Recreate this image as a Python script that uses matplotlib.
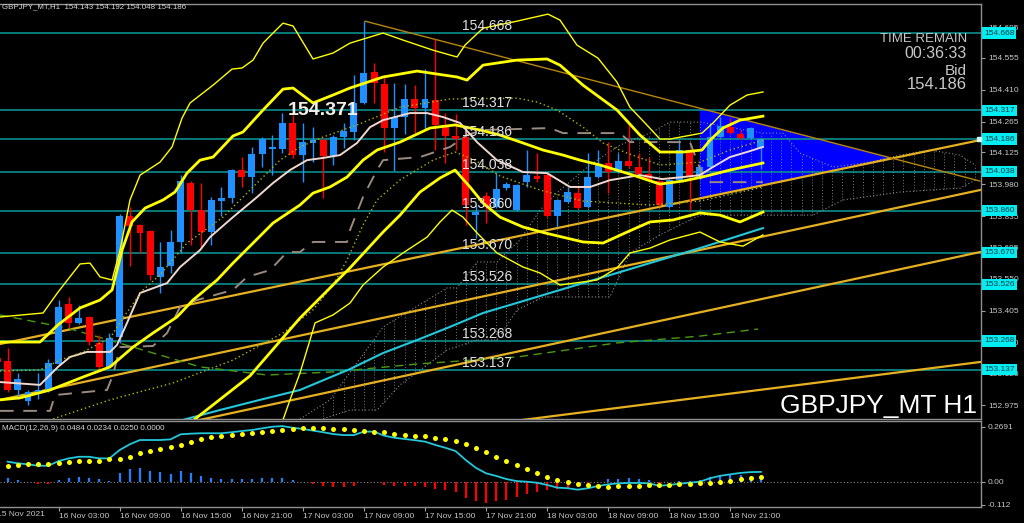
import numpy as np
import matplotlib
matplotlib.use("Agg")
import matplotlib.pyplot as plt
import matplotlib.transforms as mtrans
from matplotlib.patches import Polygon

plt.rcParams['font.family'] = ['Liberation Sans', 'DejaVu Sans']

# GBPJPY H1 candles, bar 0 = 16 Nov 03:00
bars = np.arange(-6, 70)
opens = [153.190, 153.177, 153.045, 152.995, 153.036, 153.041, 153.163, 153.436, 153.350, 153.377,
         153.259, 153.150, 153.286, 153.836, 153.795, 153.768, 153.559, 153.609, 153.718, 153.986,
         153.863, 153.763, 153.904, 153.918, 154.045, 154.013, 154.118, 154.140, 154.140, 154.259,
         154.113, 154.168, 154.181, 154.109, 154.195, 154.218, 154.350, 154.490, 154.436, 154.236,
         154.286, 154.368, 154.327, 154.363, 154.250, 154.200, 154.195, 153.840, 153.927, 153.877,
         153.963, 153.863, 153.990, 154.018, 154.022, 153.836, 153.900, 153.940, 153.877, 154.013,
         154.077, 154.036, 154.086, 154.059, 154.027, 153.995, 153.877, 153.999, 154.136, 154.009,
         154.059, 154.195, 154.240, 154.209, 154.190, 154.143]
highs = [153.204, 153.236, 153.122, 153.045, 153.122, 153.186, 153.454, 153.468, 153.431, 153.380,
         153.295, 153.304, 153.845, 153.877, 153.800, 153.772, 153.718, 153.772, 154.022, 153.995,
         153.986, 153.922, 153.968, 154.050, 154.104, 154.150, 154.195, 154.204, 154.304, 154.295,
         154.259, 154.240, 154.190, 154.204, 154.259, 154.477, 154.722, 154.531, 154.477, 154.440,
         154.436, 154.431, 154.504, 154.640, 154.304, 154.300, 154.240, 153.886, 153.945, 154.031,
         153.990, 153.981, 154.136, 154.122, 154.030, 153.913, 153.968, 153.968, 154.122, 154.136,
         154.172, 154.122, 154.263, 154.122, 154.104, 153.999, 154.004, 154.181, 154.140, 154.063,
         154.259, 154.286, 154.281, 154.227, 154.240, 154.192]
lows = [153.159, 153.036, 153.004, 152.977, 153.004, 153.036, 153.158, 153.327, 153.345, 153.250,
        153.141, 153.145, 153.259, 153.609, 153.668, 153.545, 153.486, 153.577, 153.668, 153.704,
        153.695, 153.704, 153.836, 153.895, 153.968, 153.940, 154.059, 154.022, 154.122, 154.100,
        153.990, 154.081, 153.918, 154.068, 154.145, 154.181, 154.345, 154.350, 154.127, 154.040,
        154.209, 154.213, 154.227, 154.136, 154.077, 154.136, 153.795, 153.736, 153.804, 153.872,
        153.954, 153.858, 153.968, 153.990, 153.830, 153.786, 153.895, 153.868, 153.872, 154.008,
        153.940, 154.031, 154.054, 154.013, 153.995, 153.881, 153.872, 153.995, 153.863, 154.004,
        154.054, 154.190, 154.209, 154.186, 154.186, 154.048]
closes = [153.172, 153.045, 153.095, 153.036, 153.045, 153.168, 153.422, 153.350, 153.372, 153.263,
          153.150, 153.281, 153.836, 153.790, 153.759, 153.568, 153.604, 153.718, 153.995, 153.863,
          153.763, 153.909, 153.918, 154.045, 154.013, 154.118, 154.186, 154.150, 154.259, 154.113,
          154.172, 154.181, 154.109, 154.195, 154.222, 154.350, 154.486, 154.440, 154.236, 154.286,
          154.368, 154.327, 154.368, 154.250, 154.200, 154.186, 153.886, 153.854, 153.877, 153.959,
          153.981, 153.977, 154.022, 154.004, 153.836, 153.909, 153.945, 153.872, 154.013, 154.072,
          154.036, 154.086, 154.063, 154.027, 153.999, 153.886, 153.999, 154.136, 154.013, 154.059,
          154.195, 154.245, 154.213, 154.190, 154.236, 154.186]

levels = [154.668, 154.317, 154.186, 154.038, 153.860, 153.670, 153.526, 153.268, 153.137, 152.904]
price_ticks = [154.695, 154.555, 154.410, 154.265, 154.125, 153.980, 153.835, 153.695,
               153.550, 153.405, 153.260, 153.120, 152.975]

# Bollinger bands (bar, price)
bb_up3 = [(-5.75, 153.377), (-1.52, 153.395), (-0.05, 153.490), (2.11, 153.618), (3.09, 153.622),
          (4.08, 153.559), (5.26, 153.545), (6.04, 153.681), (7.02, 153.909), (8.01, 154.022),
          (9.97, 154.081), (11.15, 154.150), (12.13, 154.281), (12.92, 154.350), (15.18, 154.431),
          (17.04, 154.504), (18.03, 154.509), (19.11, 154.545), (20.09, 154.622), (21.07, 154.668),
          (22.05, 154.713), (23.04, 154.700), (25.00, 154.550), (26.96, 154.577), (28.63, 154.622),
          (31.88, 154.668), (33.84, 154.636), (36.79, 154.590), (39.15, 154.559), (39.93, 154.613),
          (41.70, 154.690), (45.04, 154.722), (48.08, 154.754), (49.26, 154.727), (50.93, 154.613),
          (52.99, 154.554), (54.86, 154.445), (56.13, 154.331), (57.61, 154.259), (59.08, 154.186),
          (60.07, 154.186), (63.21, 154.213), (64.29, 154.259), (65.96, 154.340), (67.63, 154.386),
          (69.20, 154.400)]
bb_up2 = [(-5.75, 153.263), (-1.82, 153.263), (-0.05, 153.341), (2.11, 153.418), (4.08, 153.454),
          (5.26, 153.500), (6.24, 153.681), (7.22, 153.809), (8.50, 153.872), (10.27, 153.909),
          (11.44, 153.945), (12.62, 154.031), (13.90, 154.090), (15.18, 154.104), (17.14, 154.200),
          (18.12, 154.218), (20.09, 154.318), (22.05, 154.413), (23.04, 154.418), (25.00, 154.350),
          (26.96, 154.386), (28.63, 154.418), (31.88, 154.468), (35.22, 154.495), (39.15, 154.468),
          (40.13, 154.454), (41.70, 154.522), (45.04, 154.545), (47.99, 154.550), (49.26, 154.522),
          (51.52, 154.431), (54.86, 154.318), (57.12, 154.204), (59.08, 154.127), (61.41, 154.127),
          (63.21, 154.136), (64.00, 154.181), (65.27, 154.236), (66.94, 154.272), (69.20, 154.290)]
bb_up1 = [(-5.75, 153.131), (-1.82, 153.136), (0.15, 153.181), (2.41, 153.218), (5.06, 153.281),
          (6.53, 153.386), (8.30, 153.500), (9.97, 153.568), (12.62, 153.713), (16.16, 153.831),
          (19.50, 153.986), (21.76, 154.090), (23.72, 154.150), (25.98, 154.195), (29.32, 154.250),
          (33.55, 154.331), (38.46, 154.368), (45.04, 154.372), (47.00, 154.354), (48.97, 154.318),
          (51.52, 154.240), (53.49, 154.168), (55.85, 154.122), (59.08, 154.068), (63.01, 154.081),
          (65.96, 154.136), (69.20, 154.181)]
bb_mid = [(-5.75, 153.000), (-3.78, 153.009), (-0.83, 153.045), (2.41, 153.104), (5.06, 153.150),
          (7.32, 153.240), (9.28, 153.304), (11.64, 153.377), (13.21, 153.454), (15.57, 153.545),
          (17.14, 153.622), (19.11, 153.713), (21.07, 153.804), (23.72, 153.886), (25.00, 153.940),
          (26.67, 153.968), (28.34, 154.013), (29.91, 154.090), (31.29, 154.136), (33.55, 154.172),
          (36.49, 154.236), (38.95, 154.250), (41.41, 154.227), (43.37, 154.204), (45.63, 154.168),
          (47.59, 154.136), (49.56, 154.113), (51.23, 154.090), (53.19, 154.068), (56.43, 154.022),
          (59.08, 153.981), (61.34, 153.995), (63.21, 154.013), (65.96, 154.045), (69.20, 154.077)]
bb_dn1 = [(-5.75, 152.868), (-0.83, 152.909), (5.06, 153.000), (11.25, 153.077), (17.14, 153.181),
          (22.05, 153.304), (25.00, 153.409), (26.96, 153.522), (28.34, 153.636), (29.91, 153.795),
          (31.29, 153.909), (33.55, 154.000), (36.79, 154.090), (38.95, 154.127), (40.91, 154.090),
          (43.37, 154.018), (47.30, 153.954), (51.52, 153.904), (58.10, 153.886), (63.01, 153.904),
          (69.20, 153.968)]
bb_dn2 = [(13.41, 152.913), (18.81, 153.109), (23.72, 153.372), (28.63, 153.600), (31.88, 153.763),
          (33.55, 153.840), (35.51, 153.945), (37.48, 154.009), (38.95, 154.045), (40.42, 153.968),
          (41.70, 153.895), (43.37, 153.831), (45.63, 153.786), (47.79, 153.759), (51.52, 153.718),
          (53.49, 153.713), (55.85, 153.763), (58.10, 153.809), (60.36, 153.818), (63.01, 153.850),
          (64.98, 153.840), (66.94, 153.809), (69.20, 153.854)]
bb_dn3 = [(22.05, 152.909), (22.74, 153.000), (23.72, 153.122), (24.70, 153.272), (25.20, 153.350),
          (26.96, 153.386), (28.63, 153.440), (29.91, 153.522), (31.88, 153.604), (33.84, 153.668),
          (36.20, 153.740), (37.48, 153.809), (38.65, 153.863), (39.73, 153.831), (41.11, 153.759),
          (43.07, 153.668), (45.63, 153.604), (47.30, 153.577), (49.26, 153.522), (52.90, 153.545),
          (54.86, 153.600), (56.13, 153.668), (58.10, 153.690), (60.07, 153.727), (63.01, 153.763),
          (64.98, 153.718), (67.24, 153.699), (69.20, 153.750)]

tenkan = [(-5.75, 153.081), (-1.82, 153.068), (-0.05, 153.150), (1.13, 153.195), (2.80, 153.218),
          (5.06, 153.218), (5.75, 153.250), (6.73, 153.350), (8.01, 153.486), (10.66, 153.531),
          (11.94, 153.604), (13.90, 153.681), (14.88, 153.740), (17.14, 153.831), (19.50, 153.922),
          (21.07, 153.986), (22.74, 154.045), (24.41, 154.090), (25.98, 154.100), (27.65, 154.113),
          (29.32, 154.168), (30.60, 154.240), (31.88, 154.272), (34.53, 154.304), (36.20, 154.304),
          (37.77, 154.286), (39.44, 154.259), (41.11, 154.172), (43.07, 154.090), (45.63, 154.036),
          (47.99, 154.031), (50.25, 153.968), (52.21, 153.968), (54.17, 153.999), (57.12, 154.022),
          (59.29, 154.004), (61.34, 154.013), (63.01, 154.022), (64.29, 154.059), (65.96, 154.104),
          (67.63, 154.127), (69.20, 154.150)]
kijun = [(-5.75, 152.950), (-0.83, 152.950), (-0.34, 153.022), (4.76, 153.045), (5.35, 153.113),
         (6.04, 153.240), (9.28, 153.245), (10.66, 153.304), (11.94, 153.422), (13.61, 153.454),
         (17.14, 153.500), (18.52, 153.559), (20.78, 153.590), (22.45, 153.672), (23.72, 153.672),
         (25.00, 153.718), (28.34, 153.718), (28.63, 153.772), (29.91, 153.922), (31.29, 154.045),
         (31.88, 154.090), (35.51, 154.104), (38.46, 154.150), (40.13, 154.204), (41.70, 154.227),
         (48.28, 154.236), (49.56, 154.213), (55.16, 154.213), (56.13, 154.172), (62.03, 154.172),
         (63.51, 153.990), (69.20, 153.990)]
ma_cyan = [(12.23, 152.909), (15.87, 152.954), (19.79, 153.000), (23.72, 153.045), (28.63, 153.140),
           (31.88, 153.213), (35.22, 153.272), (38.46, 153.332), (41.70, 153.395), (45.04, 153.441),
           (48.28, 153.486), (51.52, 153.531), (54.86, 153.577), (58.10, 153.622), (63.01, 153.690),
           (69.20, 153.781)]
ma_green = [(-5.75, 153.386), (0.83, 153.327), (7.32, 153.240), (13.90, 153.150), (20.48, 153.113),
            (26.96, 153.127), (35.22, 153.163), (45.04, 153.195), (54.86, 153.259), (63.01, 153.290),
            (68.71, 153.322)]

cloud_top = [(23.72, 152.913), (26.67, 153.000), (31.88, 153.331), (38.17, 153.509), (39.15, 153.509),
             (41.11, 153.627), (43.07, 153.627), (45.33, 153.727), (47.30, 153.863), (49.26, 153.954),
             (52.21, 154.068), (55.16, 154.159), (58.10, 154.213), (60.07, 154.263), (63.01, 154.263),
             (69.20, 154.213), (71.17, 154.213), (72.84, 154.122), (76.08, 154.059), (79.72, 154.081),
             (82.66, 154.113), (85.61, 154.136), (88.56, 154.113), (90.03, 154.068)]
cloud_bot = [(25.69, 152.909), (28.63, 152.954), (31.29, 152.954), (33.55, 153.068), (38.17, 153.227),
             (41.11, 153.272), (43.07, 153.272), (45.04, 153.409), (47.59, 153.468), (54.17, 153.468),
             (56.13, 153.668), (59.08, 153.750), (63.01, 153.840), (74.11, 153.840), (77.06, 153.909),
             (82.66, 153.945), (88.56, 153.963), (90.03, 153.999)]

# trend lines: (bar0, price0, bar1, price1)
trend_up = [(-5.75, 153.254, 90.51, 154.181),
            (-5.75, 153.000, 90.51, 153.954),
            (13.90, 152.909, 90.51, 153.672),
            (45.63, 152.909, 90.51, 153.172)]
trend_down = (30.11, 154.722, 90.51, 153.995)
triangle = [(63.0, 154.327), (81.9, 154.098), (63.0, 153.917)]

# MACD(12,26,9), bars -5..69
macd_bars = np.arange(-5, 70)
macd_line = [0.098, 0.090, 0.085, 0.078, 0.078, 0.101, 0.114, 0.122, 0.122, 0.114,
             0.114, 0.155, 0.183, 0.204, 0.204, 0.204, 0.207, 0.232, 0.235, 0.237,
             0.237, 0.237, 0.242, 0.248, 0.253, 0.261, 0.269, 0.272, 0.264, 0.258,
             0.250, 0.242, 0.233, 0.228, 0.228, 0.245, 0.245, 0.225, 0.215, 0.209,
             0.203, 0.196, 0.180, 0.166, 0.150, 0.106, 0.068, 0.041, 0.028, 0.013,
             0.003, 0.000, -0.005, -0.016, -0.029, -0.032, -0.039, -0.032, -0.021, -0.013,
             -0.008, -0.006, -0.006, -0.008, -0.020, -0.016, -0.010, -0.005, 0.000, 0.017,
             0.029, 0.036, 0.043, 0.047, 0.048]
macd_signal = [0.078, 0.082, 0.085, 0.087, 0.088, 0.093, 0.096, 0.100, 0.103, 0.103,
               0.110, 0.113, 0.122, 0.139, 0.150, 0.158, 0.168, 0.180, 0.193, 0.207,
               0.217, 0.224, 0.228, 0.233, 0.238, 0.245, 0.250, 0.254, 0.258, 0.261,
               0.263, 0.261, 0.259, 0.256, 0.251, 0.248, 0.245, 0.242, 0.235, 0.228,
               0.225, 0.222, 0.215, 0.209, 0.199, 0.184, 0.163, 0.144, 0.122, 0.101,
               0.080, 0.062, 0.043, 0.023, 0.007, -0.001, -0.011, -0.018, -0.020, -0.024,
               -0.023, -0.023, -0.020, -0.016, -0.016, -0.015, -0.011, -0.010, -0.006, -0.005,
               0.000, 0.005, 0.012, 0.020, 0.024]

time_ticks = [0, 6, 12, 18, 24, 30, 36, 42, 48, 54, 60, 66]
time_labels = ["16 Nov 03:00", "16 Nov 09:00", "16 Nov 15:00", "16 Nov 21:00",
               "17 Nov 03:00", "17 Nov 09:00", "17 Nov 15:00", "17 Nov 21:00",
               "18 Nov 03:00", "18 Nov 09:00", "18 Nov 15:00", "18 Nov 21:00"]

W, H = 1024, 523
fig = plt.figure(figsize=(W / 100, H / 100), dpi=100, facecolor='black')
ax = fig.add_axes([0, 1 - 419 / H, 981 / W, 415 / H], facecolor='black')
ax2 = fig.add_axes([0, 1 - 507 / H, 981 / W, 86 / H], facecolor='black')
XLIM = (-5.75, 90.62)


def xy(pts):
    a = np.array(pts)
    return a[:, 0], a[:, 1]


# background objects
ax.add_patch(Polygon(triangle, closed=True, fc='#0000ff', ec='none', zorder=1))
for lv in levels:
    ax.axhline(lv, color='#0c8e8e', lw=1.2, zorder=2)

# ichimoku cloud: dotted outlines + dotted vertical hatch per bar
tx, ty = xy(cloud_top)
bx, by = xy(cloud_bot)
for b in range(int(np.ceil(max(tx[0], bx[0]))), int(min(tx[-1], bx[-1])) + 1):
    ax.vlines(b, np.interp(b, bx, by), np.interp(b, tx, ty), colors='#7a7a7a',
              lw=0.7, linestyles=(0, (1, 2)), zorder=2)
ax.plot(tx, ty, color='#8a8a8a', lw=0.8, ls=(0, (1, 2)), zorder=2)
ax.plot(bx, by, color='#8a8a8a', lw=0.8, ls=(0, (1, 2)), zorder=2)

# trend lines
for b0, p0, b1, p1 in trend_up:
    ax.plot([b0, b1], [p0, p1], color='#e6b020', lw=1.6, zorder=3)
ax.plot(trend_down[0::2], trend_down[1::2], color='#b8860b', lw=1.0, zorder=3)

# candles
o = np.array(opens); c = np.array(closes)
cols = np.where(c >= o, '#1e90ff', '#ff0000')
ax.vlines(bars, lows, highs, colors=cols, lw=1.0, zorder=5)
ax.bar(bars, np.maximum(np.abs(c - o), 0.004), bottom=np.minimum(o, c), width=0.68,
       color=cols, lw=0, zorder=5)

# indicators
ax.plot(*xy(ma_green), color='#4a9a10', lw=1.0, ls=(0, (6, 4)), zorder=4)
ax.plot(*xy(ma_cyan), color='#22c8dc', lw=1.5, zorder=6)
ax.plot(*xy(kijun), color='#9a8a80', lw=1.4, ls=(0, (7, 5)), zorder=6)
ax.plot(*xy(tenkan), color='#f0d8d0', lw=1.4, zorder=6)
for band in (bb_up1, bb_dn1):
    ax.plot(*xy(band), color='#b4b400', lw=1.0, ls=(0, (1, 2)), zorder=6)
for band in (bb_up2, bb_mid, bb_dn2):
    ax.plot(*xy(band), color='#ffff00', lw=2.0, zorder=6)
for band in (bb_up3, bb_dn3):
    ax.plot(*xy(band), color='#ffff00', lw=1.0, zorder=6)

# level labels
for lv in levels:
    ax.annotate(f"{lv:.3f}", xy=(39.64, lv), xytext=(0, 2.2), textcoords='offset points',
                color='#e0e0e0', fontsize=10, va='baseline', ha='left', zorder=8)
ax.text(22.54, 154.295, "154.371", fontsize=14, fontweight='bold', color='#f4efe6',
        va='baseline', ha='left', zorder=8)

ax.set_xlim(*XLIM)
ax.set_ylim(152.913, 154.800)
ax.set_xticks([])
ax.yaxis.tick_right()
ax.set_yticks(price_ticks)
ax.set_yticklabels([f"{t:.3f}" for t in price_ticks])
ax.tick_params(axis='y', colors='#a0a0a0', labelcolor='#c8c8c8', labelsize=6, length=3, pad=2)

# cyan price boxes on right axis, with bid marker
blend = mtrans.blended_transform_factory(ax.transAxes, ax.transData)
for lv in levels:
    if lv > 152.913:
        ax.text(1.0 + 3 / 981, lv, f"{lv:.3f}", transform=blend, fontsize=6, color='#0a3a48',
                va='center', ha='left', clip_on=False, zorder=20,
                bbox=dict(boxstyle='square,pad=0.25', fc='#00eef2', ec='none'))
ax.plot([0.998], [154.186], marker='s', ms=3, color='#d8ffff', transform=blend,
        clip_on=False, zorder=21)

for a in (ax, ax2):
    a.spines['left'].set_visible(False)
    for s in ('top', 'right', 'bottom'):
        a.spines[s].set_color('#909090')
        a.spines[s].set_linewidth(1.0)

# MACD panel
macd_line = np.array(macd_line); macd_signal = np.array(macd_signal)
hist = macd_line - macd_signal
ax2.axhline(0, color='#8a8a8a', lw=0.8, ls=(0, (1, 2)), zorder=1)
ax2.vlines(macd_bars, 0, hist, colors=np.where(hist >= 0, '#2080ff', '#ff0000'), lw=1.6, zorder=2)
ax2.plot(macd_bars, macd_line, color='#22c8dc', lw=1.3, zorder=3)
ax2.plot(macd_bars, macd_signal, 'o', color='#ffff00', ms=3.6, mec='none', zorder=4)
ax2.set_xlim(*XLIM)
ax2.set_ylim(-0.1238, 0.297)
ax2.yaxis.tick_right()
ax2.set_yticks([0.2691, 0.0, -0.112])
ax2.set_yticklabels(["0.2691", "0.00", "-0.112"])
ax2.tick_params(axis='y', colors='#a0a0a0', labelcolor='#c8c8c8', labelsize=6, length=3, pad=2)
ax2.set_xticks(time_ticks)
ax2.set_xticklabels(time_labels)
ax2.tick_params(axis='x', colors='#a0a0a0', labelcolor='#c8c8c8', labelsize=6, length=3, pad=1.5)
for lab in ax2.get_xticklabels():
    lab.set_horizontalalignment('left')

# texts
gray = '#c8c8c8'
fig.text(2 / W, 1 - 7 / H, "GBPJPY_MT,H1  154.143 154.192 154.048 154.186", fontsize=5.7,
         color='#d4d4d4', va='center', ha='left')
fig.text(2 / W, 1 - 428.5 / H, "MACD(12,26,9) 0.0484 0.0234 0.0250 0.0000", fontsize=5.8,
         color='#d4d4d4', va='center', ha='left')
fig.text(-3 / W, 1 - 514.5 / H, "15 Nov 2021", fontsize=6, color=gray, va='center', ha='left')
fig.text(967 / W, 1 - 39 / H, "TIME REMAIN", fontsize=9.5, color=gray, ha='right', va='center')
fig.text(967 / W, 1 - 53 / H, "00:36:33", fontsize=11.5, color=gray, ha='right', va='center')
fig.text(967 / W, 1 - 71 / H, "Bid", fontsize=11, color=gray, ha='right', va='center')
fig.text(967 / W, 1 - 84.5 / H, "154.186", fontsize=12, color=gray, ha='right', va='center')
fig.text(977 / W, 1 - 413 / H, "GBPJPY_MT H1", fontsize=19, color='white', ha='right',
         va='baseline')

fig.savefig("out.png", dpi=100, facecolor='black')
